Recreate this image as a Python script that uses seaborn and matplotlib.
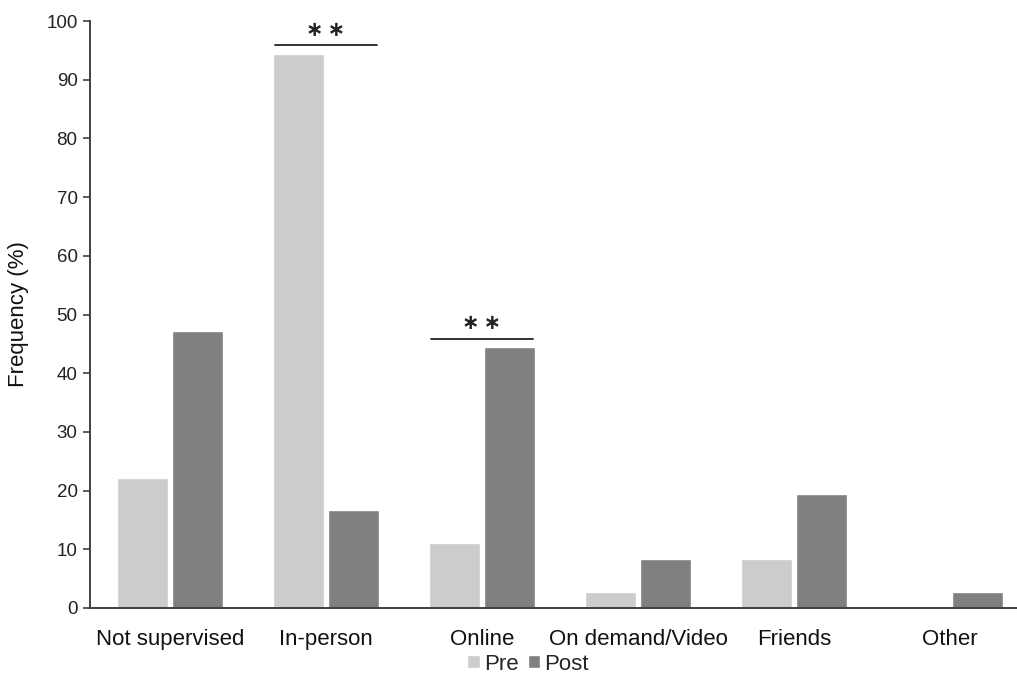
import matplotlib
matplotlib.use("Agg")
import matplotlib.pyplot as plt
import seaborn as sns
import pandas as pd
from matplotlib.patches import Patch

categories = ["Not supervised", "In-person", "Online", "On demand/Video", "Friends", "Other"]
pre = [22.2, 94.4, 11.1, 2.8, 8.3, 0.0]
post = [47.2, 16.7, 44.4, 8.3, 19.4, 2.8]
series = ["Pre", "Post"]
sig_groups = ["In-person", "Online"]
sig_labels = ["\u2217\u2009\u2217", "\u2217\u2009\u2217"]
yticks = list(range(0, 101, 10))

sns.set_theme(style="white")
plt.rcParams["font.family"] = ["Liberation Sans", "DejaVu Sans"]

df = pd.DataFrame({
    "Category": categories * 2,
    "Value": pre + post,
    "Series": ["Pre"] * len(categories) + ["Post"] * len(categories),
})

fig = plt.figure(figsize=(10.17, 6.73), dpi=100)
ax = fig.add_axes([90 / 1017, 1 - 608 / 673, 1 - 90 / 1017, (608 - 21) / 673])

sns.barplot(data=df, x="Category", y="Value", hue="Series", order=categories,
            hue_order=series, palette={"Pre": "#cccccc", "Post": "#808080"},
            width=0.70, gap=0.06, ax=ax, legend=False)

ax.set_xlim(-0.513, 5.43)
ax.set_ylim(0, 100)
ax.set_yticks(yticks)
ax.set_yticklabels([str(t) for t in yticks], fontsize=13.5, color="#222222")
ax.tick_params(axis="y", which="both", left=True, length=5, width=1.2, color="#404040", pad=4)
ax.tick_params(axis="x", bottom=False, labelsize=16, labelcolor="#111111", pad=9)
ax.set_xlabel("")
ax.set_ylabel("Frequency (%)", fontsize=16, color="#111111", labelpad=12)

for side in ["top", "right"]:
    ax.spines[side].set_visible(False)
for side in ["left", "bottom"]:
    ax.spines[side].set_color("#404040")
    ax.spines[side].set_linewidth(1.4)

# significance markers
for g, lab in zip(sig_groups, sig_labels):
    i = categories.index(g)
    top = max(pre[i], post[i]) + 1.5
    ax.plot([i - 0.33, i + 0.33], [top, top], color="#222222", lw=1.3, clip_on=False)
    ax.text(i, top + 2.6, lab, ha="center", va="center", fontsize=15,
            fontweight="bold", family=["DejaVu Sans"], color="#222222")

handles = [Patch(facecolor="#cccccc", label="Pre"), Patch(facecolor="#808080", label="Post")]
fig.legend(handles=handles, loc="center", bbox_to_anchor=(528 / 1017, 1 - 664 / 673),
           ncol=2, frameon=False, fontsize=16, handlelength=0.55, handleheight=0.55,
           handletextpad=0.2, columnspacing=0.4, borderaxespad=0)

fig.savefig("out.png", dpi=100)
